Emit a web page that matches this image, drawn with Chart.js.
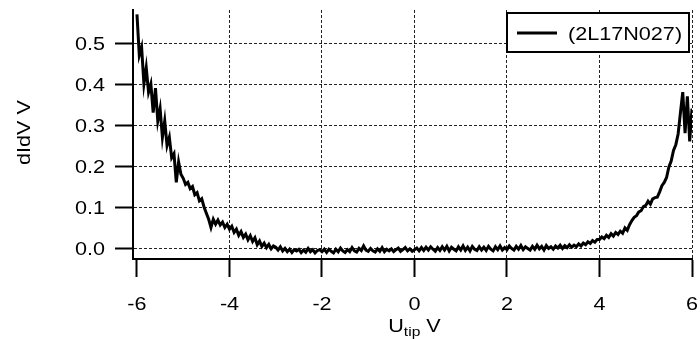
<!DOCTYPE html>
<html>
<head>
<meta charset="utf-8">
<script src="https://cdn.jsdelivr.net/npm/chart.js@4"></script>
<style>
  html, body { margin: 0; padding: 0; background: #ffffff; }
  #wrap { width: 700px; height: 339px; }
</style>
</head>
<body>
<div id="wrap"><canvas id="didvChart" width="700" height="339"></canvas></div>
<script>
// bias sweep: -6 V to +6 V in 0.05 V steps
const biasStart = -6;
const biasStep = 0.05;

// dI/dV signal, one row per 0.5 V
const didv = [
  0.57, 0.47, 0.49, 0.40, 0.44, 0.38, 0.40, 0.33, 0.39, 0.31,
  0.34, 0.27, 0.31, 0.25, 0.27, 0.22, 0.23, 0.16, 0.21, 0.18,
  0.17, 0.155, 0.16, 0.145, 0.15, 0.13, 0.135, 0.115, 0.12, 0.1,
  0.085, 0.07, 0.05, 0.07, 0.058, 0.068, 0.056, 0.063, 0.05, 0.058,
  0.046, 0.053, 0.038, 0.046, 0.031, 0.04, 0.026, 0.034, 0.02, 0.03,
  0.016, 0.025, 0.008, 0.017, 0.004, 0.012, 0.001, 0.009, -0.002, 0.005,
  0.002, -0.005, 0.003, -0.007, -0.001, -0.009, -0.003, -0.011, -0.004, -0.007,
  -0.003, -0.011, -0.005, -0.010, -0.001, -0.009, -0.004, -0.012, -0.006, -0.004,
  -0.009, -0.003, -0.011, -0.003, -0.008, -0.012, -0.003, -0.009, 0.000, -0.007,
  -0.011, -0.004, -0.009, 0.001, -0.007, -0.010, -0.001, -0.006, 0.005, -0.005,
  -0.008, -0.001, -0.007, -0.010, -0.002, -0.008, 0.001, -0.009, -0.003, -0.007,
  -0.002, -0.009, -0.004, 0.000, -0.008, -0.004, 0.001, -0.007, -0.002, -0.008,
  -0.004, 0.000, -0.007, 0.001, -0.006, 0.002, -0.005, 0.003, -0.003, -0.008,
  0.001, -0.006, 0.003, -0.005, 0.004, -0.007, 0.002, -0.003, -0.007, 0.003,
  -0.005, 0.005, -0.006, 0.002, -0.007, 0.004, -0.003, -0.006, 0.003, -0.005,
  0.002, -0.006, 0.004, -0.003, -0.007, 0.003, -0.004, 0.005, -0.005, 0.001,
  -0.004, 0.005, -0.001, -0.005, 0.004, -0.003, 0.006, -0.004, 0.003, -0.001,
  -0.005, 0.004, -0.003, 0.007, -0.002, 0.004, -0.005, 0.006, -0.001, 0.003,
  -0.003, 0.005, 0.000, 0.007, -0.001, 0.006, 0.001, 0.008, 0.002, 0.007,
  0.003, 0.010, 0.005, 0.012, 0.008, 0.015, 0.011, 0.018, 0.014, 0.021,
  0.021, 0.027, 0.023, 0.031, 0.026, 0.035, 0.029, 0.038, 0.033, 0.041,
  0.036, 0.049, 0.043, 0.057, 0.067, 0.075, 0.079, 0.088, 0.091, 0.101,
  0.104, 0.114, 0.107, 0.12, 0.123, 0.124, 0.137, 0.152, 0.16, 0.172,
  0.198, 0.212, 0.238, 0.252, 0.278, 0.33, 0.38, 0.28, 0.37, 0.26,
  0.34
];

const xTicks = [-6, -4, -2, 0, 2, 4, 6];
const yTicks = [0.0, 0.1, 0.2, 0.3, 0.4, 0.5];
const seriesName = "(2L17N027)";

const points = didv.map((v, i) => ({ x: biasStart + i * biasStep, y: v }));

const FONT = "'Liberation Sans', Arial, Helvetica, sans-serif";
const SX = 1.2; // text is drawn a little wide

function wideText(ctx, text, x, y, align, size) {
  ctx.save();
  ctx.font = size + "px " + FONT;
  ctx.translate(x, y);
  ctx.scale(SX, 1);
  ctx.textAlign = align;
  ctx.textBaseline = "alphabetic";
  ctx.fillText(text, 0, 0);
  ctx.restore();
}

// tick labels, axis titles and the boxed legend
const labelsPlugin = {
  id: "labels",
  afterDraw(chart) {
    const ctx = chart.ctx;
    const xs = chart.scales.x;
    const ys = chart.scales.y;
    const area = chart.chartArea;
    ctx.fillStyle = "#000";

    yTicks.forEach(v => {
      wideText(ctx, v.toFixed(1), area.left - 28, ys.getPixelForValue(v) + 6.5, "right", 18);
    });
    xTicks.forEach(v => {
      wideText(ctx, String(v), xs.getPixelForValue(v), 310, "center", 18);
    });

    // x title: U with subscript "tip", centred under 0 V
    ctx.save();
    ctx.font = "18px " + FONT;
    const wU = ctx.measureText("U").width * SX;
    const wV = ctx.measureText(" V").width * SX;
    ctx.font = "13px " + FONT;
    const wSub = ctx.measureText("tip").width * SX;
    ctx.restore();
    const tx = xs.getPixelForValue(0) - (wU + wSub + wV) / 2;
    wideText(ctx, "U", tx, 332, "left", 18);
    wideText(ctx, "tip", tx + wU, 336, "left", 13);
    wideText(ctx, " V", tx + wU + wSub, 332, "left", 18);

    // y title, rotated
    ctx.save();
    ctx.translate(30, (area.top + area.bottom) / 2 - 2);
    ctx.rotate(-Math.PI / 2);
    wideText(ctx, "dIdV V", 0, 0, "center", 18);
    ctx.restore();

    // legend
    ctx.save();
    ctx.fillStyle = "#fff";
    ctx.fillRect(507, 13, 182, 39);
    ctx.strokeStyle = "#000";
    ctx.lineWidth = 2;
    ctx.strokeRect(507, 13, 182, 39);
    ctx.beginPath();
    ctx.lineWidth = 3;
    ctx.moveTo(517, 33);
    ctx.lineTo(557, 33);
    ctx.stroke();
    ctx.fillStyle = "#000";
    wideText(ctx, chart.data.datasets[0].label, 568, 39.5, "left", 18);
    ctx.restore();
  }
};

new Chart(document.getElementById("didvChart"), {
  type: "line",
  data: {
    datasets: [{
      label: seriesName,
      data: points,
      borderColor: "#000",
      borderWidth: 3,
      pointRadius: 0,
      tension: 0,
      fill: false
    }]
  },
  options: {
    responsive: false,
    animation: false,
    layout: { padding: { top: 10, right: 8, left: 0, bottom: 0 } },
    plugins: { legend: { display: false }, tooltip: { enabled: false } },
    scales: {
      x: {
        type: "linear",
        min: -6.086,
        max: 6.0,
        afterFit: s => { s.height = 80; },
        afterBuildTicks: s => { s.ticks = xTicks.map(v => ({ value: v })); },
        ticks: { display: false },
        grid: {
          color: c => (c.tick && c.tick.value === -6 ? "rgba(0,0,0,0)" : "#222"),
          lineWidth: 1,
          tickLength: 18,
          tickColor: "#000",
          tickWidth: 2
        },
        border: { display: true, color: "#000", width: 2, dash: [3, 2] }
      },
      y: {
        min: -0.0268,
        max: 0.5805,
        afterFit: s => { s.width = 133; },
        afterBuildTicks: s => { s.ticks = yTicks.map(v => ({ value: v })); },
        ticks: { display: false },
        grid: {
          color: "#222",
          lineWidth: 1,
          tickLength: 18,
          tickColor: "#000",
          tickWidth: 2
        },
        border: { display: true, color: "#000", width: 2, dash: [3, 2] }
      }
    }
  },
  plugins: [labelsPlugin]
});
</script>
</body>
</html>
